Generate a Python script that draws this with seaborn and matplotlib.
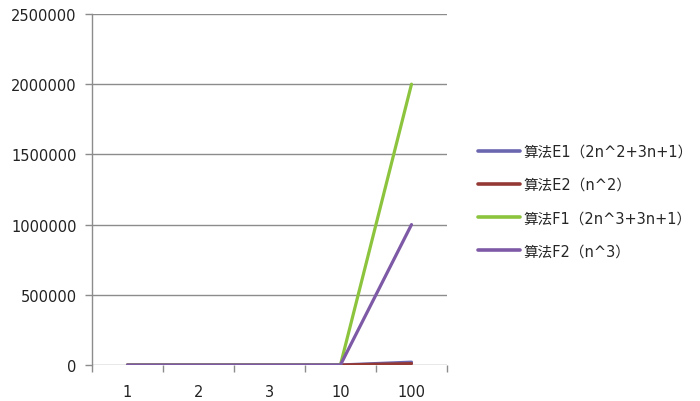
import pandas as pd
import matplotlib
matplotlib.use("Agg")
import matplotlib.pyplot as plt
import seaborn as sns
from matplotlib.ticker import FixedLocator

# data
n_labels = ["1", "2", "3", "10", "100"]
e1 = [6, 15, 28, 231, 20301]
e2 = [1, 4, 9, 100, 10000]
f1 = [6, 23, 64, 2031, 2000301]
f2 = [1, 8, 27, 1000, 1000000]
series_names = ["算法E1（2n^2+3n+1）", "算法E2（n^2）", "算法F1（2n^3+3n+1）", "算法F2（n^3）"]
colors = ["#6b66b0", "#953935", "#8cc43e", "#7d59a6"]

rows = []
for name, vals in zip(series_names, [e1, e2, f1, f2]):
    for i, v in enumerate(vals):
        rows.append({"pos": i, "value": v, "series": name})
df = pd.DataFrame(rows)

sns.set_style("white")
plt.rcParams["font.family"] = ["DejaVu Sans", "Noto Sans CJK SC"]

fig = plt.figure(figsize=(7, 4.02), dpi=100)
ax = fig.add_axes([92 / 700, 1 - 366 / 402, 355 / 700, 351 / 402])

sns.lineplot(data=df, x="pos", y="value", hue="series", palette=colors,
             hue_order=series_names, linewidth=2.3, ax=ax, legend=True)

ax.set_xlim(-0.5, 4.5)
ax.set_ylim(0, 2500000)
ax.set_yticks([0, 500000, 1000000, 1500000, 2000000, 2500000])
ax.set_yticklabels(["0", "500000", "1000000", "1500000", "2000000", "2500000"])
ax.set_xticks(range(5))
ax.set_xticklabels(n_labels)
ax.xaxis.set_minor_locator(FixedLocator([-0.5, 0.5, 1.5, 2.5, 3.5, 4.5]))
ax.tick_params(axis="x", which="major", length=0, pad=14, labelsize=10.5, colors="#222222")
ax.tick_params(axis="x", which="minor", length=5, width=1, color="#8c8c8c", direction="out", bottom=True)
ax.tick_params(axis="y", length=5, width=1, color="#8c8c8c", direction="out", left=True,
               labelsize=10.5, labelcolor="#222222", pad=6)
ax.grid(axis="y", color="#8c8c8c", linewidth=1)
ax.set_axisbelow(True)
for side in ["top", "right", "bottom"]:
    ax.spines[side].set_visible(False)
ax.spines["left"].set_color("#8c8c8c")
ax.spines["left"].set_linewidth(1)
ax.set_xlabel("")
ax.set_ylabel("")

handles, labels = ax.get_legend_handles_labels()
for h in handles:
    h.set_linewidth(2.6)
ax.legend(handles, labels, loc="center left", bbox_to_anchor=(465 / 700, 1 - 202 / 402),
          bbox_transform=fig.transFigure, frameon=False, handlelength=2.9,
          handletextpad=0.2, labelspacing=1.25,
          prop={"family": ["DejaVu Sans", "Noto Sans CJK SC"], "size": 10.5})

fig.savefig("out.png", dpi=100, facecolor="white")
